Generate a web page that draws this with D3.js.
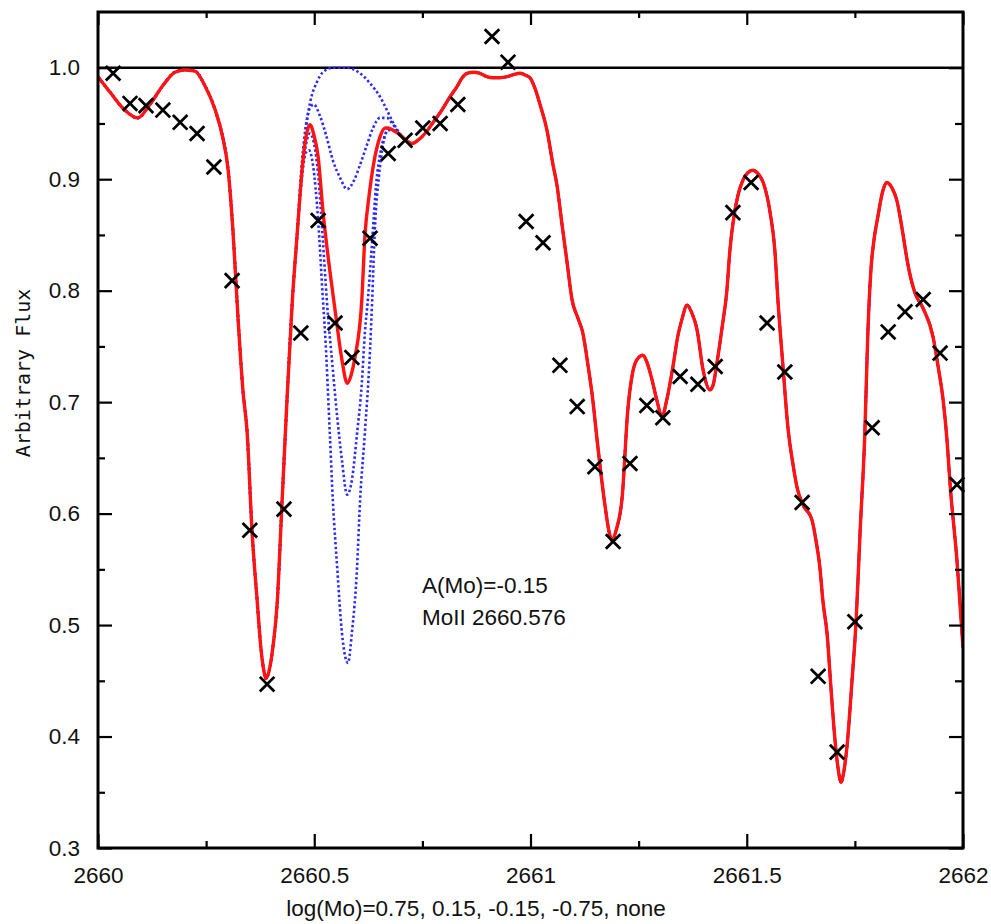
<!DOCTYPE html>
<html lang="en">
  <head>
    <title>MoII 2660.576 synthesis</title>
    <script src="https://d3js.org/d3.v7.min.js"></script>
    <style>
      body { margin: 0; background: #fff; }
      text { font-family: "Liberation Sans", Arial, sans-serif; fill: #111; }
      .tick line { stroke: #000; stroke-width: 2.2; }
      .tick text { font-size: 22.5px; }
    </style>
  </head>
  <body>
    <div id="chart"></div>
    <script>
      // observed spectrum (wavelength, flux)
      const obsPoints = [
        [2660.035, 0.995], [2660.074, 0.968], [2660.111, 0.966], [2660.150, 0.962],
        [2660.190, 0.951], [2660.229, 0.941], [2660.268, 0.911], [2660.310, 0.809],
        [2660.351, 0.585], [2660.391, 0.447], [2660.430, 0.604], [2660.469, 0.762],
        [2660.509, 0.863], [2660.548, 0.771], [2660.587, 0.740], [2660.629, 0.847],
        [2660.671, 0.923], [2660.710, 0.935], [2660.751, 0.946], [2660.791, 0.950],
        [2660.832, 0.967], [2660.911, 1.028], [2660.948, 1.005], [2660.990, 0.862],
        [2661.029, 0.843], [2661.068, 0.733], [2661.108, 0.696], [2661.149, 0.642],
        [2661.191, 0.575], [2661.230, 0.645], [2661.269, 0.697], [2661.306, 0.686],
        [2661.346, 0.723], [2661.387, 0.716], [2661.427, 0.732], [2661.468, 0.870],
        [2661.510, 0.897], [2661.547, 0.771], [2661.588, 0.727], [2661.628, 0.610],
        [2661.665, 0.454], [2661.709, 0.386], [2661.750, 0.503], [2661.790, 0.677],
        [2661.827, 0.763], [2661.866, 0.781], [2661.908, 0.792], [2661.947, 0.744],
        [2661.986, 0.626]
      ];

      // best fit synthesis, A(Mo) = -0.15
      const fitCurve = [
        [2660.000, 0.992], [2660.028, 0.978], [2660.062, 0.962], [2660.092, 0.955],
        [2660.120, 0.967], [2660.150, 0.984], [2660.178, 0.996], [2660.201, 0.998],
        [2660.224, 0.997], [2660.247, 0.984], [2660.271, 0.962], [2660.287, 0.940],
        [2660.301, 0.908], [2660.312, 0.854], [2660.324, 0.774], [2660.335, 0.711],
        [2660.345, 0.672], [2660.356, 0.585], [2660.368, 0.522], [2660.377, 0.478],
        [2660.384, 0.458], [2660.388, 0.452], [2660.395, 0.458], [2660.405, 0.482],
        [2660.414, 0.518], [2660.425, 0.606], [2660.437, 0.702], [2660.449, 0.789],
        [2660.460, 0.848], [2660.474, 0.917], [2660.483, 0.942], [2660.490, 0.949],
        [2660.499, 0.940], [2660.509, 0.920], [2660.520, 0.872], [2660.536, 0.818],
        [2660.548, 0.783], [2660.564, 0.738], [2660.576, 0.717], [2660.585, 0.724],
        [2660.594, 0.740], [2660.610, 0.792], [2660.617, 0.848], [2660.627, 0.886],
        [2660.636, 0.911], [2660.652, 0.938], [2660.664, 0.946], [2660.671, 0.946],
        [2660.682, 0.944], [2660.698, 0.940], [2660.712, 0.935], [2660.726, 0.932],
        [2660.740, 0.935], [2660.756, 0.941], [2660.775, 0.951], [2660.795, 0.962],
        [2660.814, 0.974], [2660.830, 0.983], [2660.842, 0.991], [2660.853, 0.995],
        [2660.869, 0.996], [2660.883, 0.995], [2660.899, 0.992], [2660.913, 0.991],
        [2660.929, 0.991], [2660.946, 0.992], [2660.962, 0.994], [2660.976, 0.995],
        [2660.990, 0.993], [2660.999, 0.991], [2661.010, 0.982], [2661.022, 0.967],
        [2661.038, 0.944], [2661.052, 0.913], [2661.061, 0.895], [2661.073, 0.859],
        [2661.084, 0.827], [2661.096, 0.792], [2661.110, 0.775], [2661.121, 0.762],
        [2661.133, 0.733], [2661.144, 0.702], [2661.154, 0.666], [2661.161, 0.642],
        [2661.172, 0.608], [2661.181, 0.585], [2661.188, 0.576], [2661.198, 0.585],
        [2661.212, 0.615], [2661.225, 0.693], [2661.235, 0.724], [2661.246, 0.738],
        [2661.260, 0.742], [2661.269, 0.736], [2661.281, 0.720], [2661.292, 0.702],
        [2661.304, 0.687], [2661.315, 0.702], [2661.329, 0.731], [2661.341, 0.760],
        [2661.350, 0.774], [2661.362, 0.787], [2661.373, 0.780], [2661.385, 0.765],
        [2661.399, 0.729], [2661.415, 0.711], [2661.422, 0.715], [2661.431, 0.735],
        [2661.443, 0.767], [2661.454, 0.800], [2661.461, 0.836], [2661.471, 0.868],
        [2661.480, 0.886], [2661.491, 0.899], [2661.503, 0.906], [2661.514, 0.908],
        [2661.526, 0.905], [2661.538, 0.897], [2661.554, 0.870], [2661.565, 0.836],
        [2661.572, 0.792], [2661.584, 0.731], [2661.595, 0.678], [2661.607, 0.644],
        [2661.616, 0.624], [2661.630, 0.608], [2661.651, 0.594], [2661.660, 0.576],
        [2661.669, 0.552], [2661.676, 0.522], [2661.686, 0.491], [2661.695, 0.442],
        [2661.704, 0.397], [2661.711, 0.372], [2661.718, 0.359], [2661.725, 0.370],
        [2661.732, 0.392], [2661.743, 0.448], [2661.753, 0.505], [2661.762, 0.583],
        [2661.773, 0.672], [2661.780, 0.762], [2661.787, 0.818], [2661.794, 0.845],
        [2661.803, 0.866], [2661.815, 0.890], [2661.824, 0.897], [2661.836, 0.892],
        [2661.847, 0.881], [2661.859, 0.856], [2661.871, 0.827], [2661.880, 0.810],
        [2661.889, 0.798], [2661.908, 0.784], [2661.931, 0.758], [2661.942, 0.733],
        [2661.954, 0.702], [2661.963, 0.666], [2661.970, 0.627], [2661.986, 0.558],
        [2662.000, 0.480]
      ];

      // other abundances only differ around the Mo line
      const moNone = [
        [2660.460, 0.848], [2660.469, 0.899], [2660.479, 0.940], [2660.490, 0.968],
        [2660.506, 0.987], [2660.520, 0.996], [2660.543, 1.000], [2660.576, 1.000],
        [2660.606, 0.995], [2660.629, 0.986], [2660.652, 0.974], [2660.668, 0.962],
        [2660.682, 0.951], [2660.698, 0.941]
      ];
      const moMinus075 = [
        [2660.460, 0.848], [2660.472, 0.917], [2660.481, 0.949], [2660.490, 0.964],
        [2660.499, 0.967], [2660.513, 0.957], [2660.527, 0.940], [2660.543, 0.917],
        [2660.560, 0.901], [2660.576, 0.891], [2660.592, 0.899], [2660.606, 0.913],
        [2660.622, 0.931], [2660.636, 0.946], [2660.652, 0.955], [2660.668, 0.955],
        [2660.682, 0.949]
      ];
      const moPlus015 = [
        [2660.460, 0.848], [2660.474, 0.913], [2660.483, 0.935], [2660.490, 0.941],
        [2660.499, 0.933], [2660.509, 0.904], [2660.520, 0.845], [2660.529, 0.792],
        [2660.543, 0.729], [2660.553, 0.687], [2660.564, 0.648], [2660.576, 0.617],
        [2660.587, 0.630], [2660.599, 0.672], [2660.610, 0.717], [2660.617, 0.762],
        [2660.624, 0.792], [2660.634, 0.845], [2660.643, 0.895], [2660.654, 0.926],
        [2660.666, 0.942]
      ];
      const moPlus075 = [
        [2660.460, 0.848], [2660.472, 0.904], [2660.481, 0.924], [2660.488, 0.926],
        [2660.497, 0.913], [2660.509, 0.863], [2660.520, 0.792], [2660.525, 0.762],
        [2660.536, 0.672], [2660.543, 0.612], [2660.553, 0.552], [2660.564, 0.493],
        [2660.578, 0.466], [2660.587, 0.493], [2660.599, 0.552], [2660.606, 0.612],
        [2660.617, 0.672], [2660.629, 0.747], [2660.634, 0.792], [2660.640, 0.854],
        [2660.650, 0.904], [2660.659, 0.931], [2660.671, 0.944]
      ];

      const xMajor = [2660, 2660.5, 2661, 2661.5, 2662];
      const xTickLabels = ["2660", "2660.5", "2661", "2661.5", "2662"];
      const xMinor = [2660.25, 2660.75, 2661.25, 2661.75];
      const yMajor = [0.3, 0.4, 0.5, 0.6, 0.7, 0.8, 0.9, 1.0];
      const yTickLabels = ["0.3", "0.4", "0.5", "0.6", "0.7", "0.8", "0.9", "1.0"];
      const yMinor = [0.35, 0.45, 0.55, 0.65, 0.75, 0.85, 0.95];

      const width = 991;
      const height = 924;
      const margin = { top: 12, right: 28, bottom: 76, left: 98 };

      const svg = d3
        .select("#chart")
        .append("svg")
        .attr("width", width)
        .attr("height", height);

      const x = d3
        .scaleLinear()
        .domain([2660, 2662])
        .range([margin.left, width - margin.right]);

      const y = d3
        .scaleLinear()
        .domain([0.3, 1.05])
        .range([height - margin.bottom, margin.top]);

      svg
        .append("clipPath")
        .attr("id", "plot-clip")
        .append("rect")
        .attr("x", margin.left)
        .attr("y", margin.top)
        .attr("width", width - margin.left - margin.right)
        .attr("height", height - margin.top - margin.bottom);

      // continuum at 1.0
      svg
        .append("line")
        .attr("x1", x(2660))
        .attr("x2", x(2662))
        .attr("y1", y(1.0))
        .attr("y2", y(1.0))
        .attr("stroke", "#000")
        .attr("stroke-width", 2.6);

      const line = d3
        .line()
        .x((d) => x(d[0]))
        .y((d) => y(d[1]))
        .curve(d3.curveMonotoneX);

      // splice a Mo-region trace into the fit curve
      const withRegion = (region) => {
        const lo = region[0][0];
        const hi = region[region.length - 1][0];
        return fitCurve
          .filter((d) => d[0] < lo)
          .concat(region, fitCurve.filter((d) => d[0] > hi));
      };

      const blueSeries = [moPlus075, moPlus015, moMinus075, moNone].map(withRegion);

      const curves = svg.append("g").attr("clip-path", "url(#plot-clip)");

      curves
        .selectAll(".alt")
        .data(blueSeries)
        .enter()
        .append("path")
        .attr("class", "alt")
        .attr("fill", "none")
        .attr("stroke", "#2a2aff")
        .attr("stroke-width", 2.6)
        .attr("stroke-dasharray", "2.4,2.4")
        .attr("d", line);

      curves
        .append("path")
        .datum(fitCurve)
        .attr("fill", "none")
        .attr("stroke", "#ff1414")
        .attr("stroke-width", 3.4)
        .attr("stroke-linejoin", "round")
        .attr("d", line);

      svg
        .append("g")
        .selectAll("path")
        .data(obsPoints)
        .enter()
        .append("path")
        .attr("d", d3.symbol().type(d3.symbolTimes).size(140))
        .attr("transform", (d) => `translate(${x(d[0])},${y(d[1])})`)
        .attr("fill", "none")
        .attr("stroke", "#000")
        .attr("stroke-width", 2.8);

      // axes, ticks pointing inwards on all four sides
      const bottom = height - margin.bottom;
      const right = width - margin.right;

      svg
        .append("g")
        .attr("transform", `translate(0,${bottom})`)
        .call(
          d3.axisBottom(x).tickValues(xMajor)
            .tickFormat((d, i) => xTickLabels[i])
            .tickSizeInner(-14).tickSizeOuter(0).tickPadding(19)
        );
      svg
        .append("g")
        .attr("transform", `translate(0,${bottom})`)
        .call(d3.axisBottom(x).tickValues(xMinor).tickFormat("").tickSize(-7));
      svg
        .append("g")
        .attr("transform", `translate(0,${margin.top})`)
        .call(d3.axisTop(x).tickValues(xMajor).tickFormat("").tickSize(-13));
      svg
        .append("g")
        .attr("transform", `translate(0,${margin.top})`)
        .call(d3.axisTop(x).tickValues(xMinor).tickFormat("").tickSize(-6));

      svg
        .append("g")
        .attr("transform", `translate(${margin.left},0)`)
        .call(
          d3.axisLeft(y).tickValues(yMajor)
            .tickFormat((d, i) => yTickLabels[i])
            .tickSizeInner(-14).tickSizeOuter(0).tickPadding(18)
        );
      svg
        .append("g")
        .attr("transform", `translate(${margin.left},0)`)
        .call(d3.axisLeft(y).tickValues(yMinor).tickFormat("").tickSize(-7));
      svg
        .append("g")
        .attr("transform", `translate(${right},0)`)
        .call(d3.axisRight(y).tickValues(yMajor).tickFormat("").tickSize(-14));
      svg
        .append("g")
        .attr("transform", `translate(${right},0)`)
        .call(d3.axisRight(y).tickValues(yMinor).tickFormat("").tickSize(-8));

      svg.selectAll(".domain").remove();

      svg
        .append("rect")
        .attr("x", margin.left)
        .attr("y", margin.top)
        .attr("width", right - margin.left)
        .attr("height", bottom - margin.top)
        .attr("fill", "none")
        .attr("stroke", "#000")
        .attr("stroke-width", 3);

      svg
        .append("text")
        .attr("transform", "translate(30,373) rotate(-90)")
        .attr("text-anchor", "middle")
        .style("font-family", "'DejaVu Sans Mono', monospace")
        .style("font-size", "20px")
        .text("Arbitrary Flux");

      svg
        .append("text")
        .attr("x", 476)
        .attr("y", 916)
        .attr("text-anchor", "middle")
        .style("font-size", "22.5px")
        .text("log(Mo)=0.75, 0.15, -0.15, -0.75, none");

      svg
        .append("text")
        .attr("x", 422)
        .attr("y", 593)
        .style("font-size", "22.5px")
        .text("A(Mo)=-0.15");

      svg
        .append("text")
        .attr("x", 422)
        .attr("y", 625)
        .style("font-size", "22.5px")
        .text("MoII 2660.576");
    </script>
  </body>
</html>
